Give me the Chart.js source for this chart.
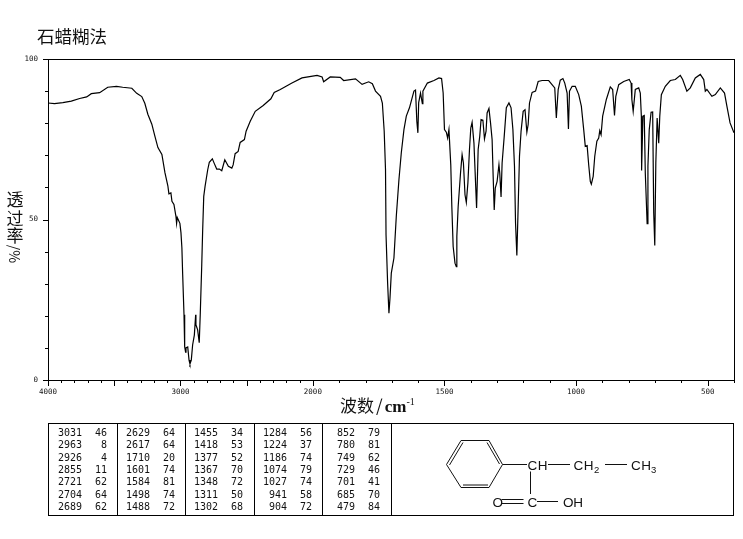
<!DOCTYPE html>
<html lang="zh-cn">

<head>
    <meta charset="UTF-8">
    <title>石蜡糊法</title>
    <script src="https://cdn.jsdelivr.net/npm/chart.js"></script>
    <style>
        html, body { margin: 0; padding: 0; background: #fff; }
        .page { position: relative; width: 743px; height: 539px; overflow: hidden; }
        canvas { position: absolute; left: 0; top: 0; }
        .titulo { position: absolute; left: 37px; top: 23px; font: 17.5px "Noto Sans CJK SC"; color: #111; white-space: nowrap; }
        .ychar { position: absolute; left: 5px; width: 20px; text-align: center; font: 17px/20px "Noto Sans CJK SC"; color: #111; }
        .yrot { position: absolute; left: 3px; top: 244px; width: 24px; text-align: center; font: 14px/20px "Noto Sans CJK SC"; color: #111; transform: rotate(90deg); white-space: nowrap; }
        .xtitle { position: absolute; left: 340px; top: 392px; font: 17px "Noto Sans CJK SC"; color: #111; white-space: nowrap; }
        .xtitle i { font-style: normal; padding: 0 2px; }
        .xtitle span { font-family: "Liberation Serif"; font-size: 17px; font-weight: bold; }
        .xtitle sup { font: 10px "Liberation Serif"; position: relative; top: 4px; vertical-align: top; }
        #tabela { position: absolute; left: 48px; top: 423px; width: 686px; height: 93px; box-sizing: border-box; border: 1px solid #000; }
        .coluna { position: absolute; top: 3px; width: 68px; height: 90px; }
        .linha { position: absolute; left: 0; height: 12px; font: 10px/12px "DejaVu Sans Mono"; color: #111; }
        .linha b { position: absolute; top: 0; font-weight: normal; text-align: right; }
        svg { position: absolute; left: 0; top: 0; }
    </style>
</head>

<body>
    <div class="page">
        <canvas id="espectro" width="743" height="539"></canvas>
        <div class="titulo">石蜡糊法</div>
        <div class="ychar" style="top:189px">透</div>
        <div class="ychar" style="top:208px">过</div>
        <div class="ychar" style="top:225px">率</div>
        <div class="yrot">/%</div>
        <div class="xtitle">波数<i>/</i><span>cm</span><sup>-1</sup></div>
        <div id="tabela"></div>
        <svg width="743" height="539" stroke="#111" stroke-width="1" font-family="Liberation Sans" font-size="13.5" fill="#111">
            <g fill="none">
                <path d="M446.5 464.5 L461 440.5 L489 440.5 L502.5 464.5 L489 487.5 L461 487.5 Z"/>
                <path d="M449.5 465 L463 442.5 M487 442.5 L499.5 464 M463 485 L488 485"/>
                <path d="M502.5 464.5 H527 M548 464.5 H570 M605 464.5 H627 M530.5 471.5 V494"/>
                <path d="M501.5 499.5 H523.5 M501.5 503.5 H523.5 M537 501.5 H558"/>
            </g>
            <g stroke="none">
                <text x="527.5" y="469.5" textLength="20">CH</text>
                <text x="573.5" y="469.5" textLength="20">CH</text>
                <text x="594" y="473" font-size="9.5">2</text>
                <text x="631" y="469.5" textLength="20">CH</text>
                <text x="651" y="473" font-size="9.5">3</text>
                <text x="492.5" y="506.5">O</text>
                <text x="527.5" y="506.5">C</text>
                <text x="563" y="506.5" textLength="20">OH</text>
            </g>
        </svg>
    </div>

<script>
    // eixo x quebrado em 2000
    var xLabels = [4000, 3000, 2000, 1500, 1000, 500];
    var xMinor = [3900, 3800, 3700, 3600, 3400, 3300, 3200, 3100, 2900, 2800, 2700, 2600, 2400, 2300, 2200, 2100,
        1900, 1800, 1700, 1600, 1400, 1300, 1200, 1100, 900, 800, 700, 600, 400];
    var xMajor = [4000, 3500, 3000, 2500, 2000, 1500, 1000, 500];
    var yLabels = [0, 50, 100];
    var yMinor = [10, 20, 30, 40, 60, 70, 80, 90];

    var wavenumbers = [
        4000, 3951, 3888, 3824, 3761, 3708, 3673, 3610, 3549, 3483,
        3436, 3367, 3330, 3292, 3269, 3246, 3216, 3193, 3170, 3140,
        3117, 3095, 3087, 3072, 3064, 3049, 3034, 3029, 3024, 3004,
        2996, 2989, 2983, 2973, 2968, 2961, 2958, 2945, 2935, 2928,
        2918, 2908, 2895, 2885, 2883, 2870, 2858, 2850, 2839, 2832,
        2824, 2814, 2794, 2782, 2759, 2744, 2726, 2706, 2688, 2665,
        2638, 2612, 2602, 2587, 2564, 2549, 2517, 2504, 2473, 2435,
        2375, 2317, 2292, 2246, 2158, 2082, 1984, 1965, 1959, 1934,
        1896, 1883, 1838, 1813, 1788, 1774, 1762, 1743, 1736, 1729,
        1724, 1722, 1716, 1711, 1707, 1702, 1692, 1683, 1673, 1664,
        1654, 1645, 1633, 1616, 1610, 1605, 1601, 1598, 1591, 1584,
        1582, 1565, 1540, 1521, 1511, 1505, 1500, 1493, 1488, 1483,
        1476, 1472, 1467, 1460, 1455, 1453, 1448, 1439, 1433, 1428,
        1422, 1417, 1411, 1405, 1400, 1395, 1388, 1378, 1372, 1366,
        1361, 1354, 1348, 1342, 1338, 1331, 1325, 1319, 1315, 1311,
        1307, 1300, 1293, 1290, 1285, 1281, 1273, 1265, 1255, 1247,
        1240, 1234, 1230, 1225, 1221, 1215, 1209, 1201, 1194, 1187,
        1182, 1177, 1167, 1154, 1144, 1129, 1104, 1081, 1075, 1068,
        1060, 1050, 1043, 1034, 1029, 1025, 1015, 1003, 990, 980,
        971, 965, 958, 952, 946, 942, 935, 929, 921, 914,
        910, 905, 899, 885, 870, 861, 854, 849, 838, 819,
        798, 791, 788, 783, 775, 762, 756, 752, 751, 746,
        741, 737, 730, 727, 722, 715, 709, 705, 701, 697,
        692, 686, 682, 676, 661, 642, 623, 604, 595, 579,
        566, 547, 528, 515, 509, 503, 484, 471, 452, 436,
        427, 415, 400
    ];

    var transmittance = [
        86.3, 86.1, 86.4, 86.9, 87.7, 88.2, 89.2, 89.5, 91.2, 91.5,
        91.2, 90.9, 89.3, 88.3, 86.2, 82.8, 79.7, 76, 72.4, 70.3,
        64.6, 60.5, 58, 58.3, 55.7, 54.7, 51, 48.8, 50.6, 48.8,
        45.9, 41.2, 32.8, 20.3, 10.4, 8.7, 10, 10.3, 6.2, 5,
        6.2, 10.9, 14, 20.3, 17.2, 15.6, 11.6, 20.9, 35.9, 46.8,
        57.2, 60.3, 65.5, 67.8, 68.9, 67.4, 65.7, 65.7, 65.2, 68.6,
        66.6, 66, 67, 70.5, 71.2, 74, 74.9, 77.5, 80.6, 83.7,
        85.5, 87.6, 89.6, 90.5, 92.5, 94.1, 94.9, 94.4, 92.9, 94.4,
        94.3, 93.3, 93.8, 92.1, 92.9, 92.3, 90, 88.4, 86.3, 77.5,
        65.5, 45.2, 30.2, 20.8, 25.5, 33.3, 38, 51, 62.4, 70.8,
        78, 82.2, 84.8, 90, 90.3, 80.6, 77, 86.4, 89.4, 86.1,
        90, 92.5, 93.3, 94.1, 93.9, 89.4, 78, 77.2, 75.4, 78,
        67, 54, 41.6, 36.4, 35.3, 44.7, 54, 64.5, 70.2, 67.6,
        57.7, 55.3, 61.4, 71.8, 78.5, 80.3, 73.8, 53.6, 71.8, 75.9,
        81.1, 80.9, 75.1, 77.5, 83.2, 84.6, 80.1, 74.9, 63.4, 53,
        59.8, 61.9, 67.1, 64.5, 57, 67.6, 75.9, 84.8, 86.3, 84.8,
        78, 66.6, 48.9, 38.8, 51, 69.7, 77.5, 83.7, 84.2, 77.2,
        79.6, 86.3, 89.6, 90, 93, 93.3, 93.3, 91, 81.6, 90.5,
        93.4, 93.9, 92.5, 89.4, 78.2, 90, 91.5, 91.5, 88.9, 85.3,
        78, 72.8, 73, 67, 61.9, 61, 63.4, 69.7, 74.4, 75.4,
        77.7, 76.4, 82.2, 87.4, 91.3, 90.5, 82.4, 88.4, 92, 93,
        93.6, 92.5, 87.4, 83.7, 90.5, 91, 89.4, 82.2, 65.3, 82.2,
        82.4, 64.5, 48.7, 66.6, 78, 83.4, 83.5, 52, 41.9, 67.6,
        81.6, 73.8, 82.2, 88.9, 91.5, 93.3, 93.6, 94.9, 93.6, 90,
        91, 94.1, 95.2, 93.6, 90, 90.5, 88.4, 88.9, 91, 89.4,
        85.3, 80.1, 77
    ];

    // tabela de picos, uma lista por coluna
    var peaksWave = [
        [3031, 2963, 2926, 2855, 2721, 2704, 2689],
        [2629, 2617, 1710, 1601, 1584, 1498, 1488],
        [1455, 1418, 1377, 1367, 1348, 1311, 1302],
        [1284, 1224, 1186, 1074, 1027, 941, 904],
        [852, 780, 749, 729, 701, 685, 479]
    ];
    var peaksTrans = [
        [46, 8, 4, 11, 62, 64, 62],
        [64, 64, 20, 74, 81, 74, 72],
        [34, 53, 52, 70, 72, 50, 68],
        [56, 37, 74, 79, 74, 58, 72],
        [79, 81, 62, 46, 41, 70, 84]
    ];

    // escala linear com a quebra em 2000 (metade da escala acima disso)
    var BREAK_AT = 2000;
    var BREAK_POS = 0.3861;

    class BrokenScale extends Chart.LinearScale {
        getPixelForValue(value) {
            var dec;
            if (value >= BREAK_AT) {
                dec = (this.max - value) / (this.max - BREAK_AT) * BREAK_POS;
            } else {
                dec = BREAK_POS + (BREAK_AT - value) / (BREAK_AT - this.min) * (1 - BREAK_POS);
            }
            return this.getPixelForDecimal(dec);
        }
    }
    BrokenScale.id = "broken";
    BrokenScale.defaults = Chart.LinearScale.defaults;
    Chart.register(BrokenScale);

    // moldura e marcas dos eixos
    var molduraPlugin = {
        id: "moldura",
        afterDraw(chart) {
            var ctx = chart.ctx;
            var area = chart.chartArea;
            var x = chart.scales.x;
            var y = chart.scales.y;
            ctx.save();
            ctx.strokeStyle = "#000";
            ctx.lineWidth = 1;
            ctx.strokeRect(area.left + 0.5, area.top + 0.5, area.right - area.left, area.bottom - area.top);
            ctx.beginPath();
            xMajor.forEach(function (v) {
                var px = Math.round(x.getPixelForValue(v)) + 0.5;
                ctx.moveTo(px, area.bottom);
                ctx.lineTo(px, area.bottom + 6);
            });
            xMinor.forEach(function (v) {
                var px = Math.round(x.getPixelForValue(v)) + 0.5;
                ctx.moveTo(px, area.bottom);
                ctx.lineTo(px, area.bottom + 3);
            });
            yLabels.forEach(function (v) {
                var py = Math.round(y.getPixelForValue(v)) + 0.5;
                ctx.moveTo(area.left, py);
                ctx.lineTo(area.left - 5, py);
            });
            yMinor.forEach(function (v) {
                var py = Math.round(y.getPixelForValue(v)) + 0.5;
                ctx.moveTo(area.left, py);
                ctx.lineTo(area.left - 3, py);
            });
            ctx.stroke();
            ctx.restore();
        }
    };

    const ctx = document.getElementById("espectro");
    new Chart(ctx, {
        type: "line",
        data: {
            datasets: [{
                data: wavenumbers.map(function (w, i) { return { x: w, y: transmittance[i] }; }),
                borderColor: "#000",
                borderWidth: 1.2,
                pointRadius: 0,
                tension: 0
            }]
        },
        plugins: [molduraPlugin],
        options: {
            responsive: false,
            animation: false,
            layout: { padding: { top: 59, right: 9, bottom: 0, left: 0 } },
            plugins: { legend: { display: false }, title: { display: false }, tooltip: { enabled: false } },
            scales: {
                x: {
                    type: "broken",
                    min: 400,
                    max: 4000,
                    grid: { display: false },
                    border: { display: false },
                    afterBuildTicks: function (scale) {
                        scale.ticks = xLabels.map(function (v) { return { value: v }; });
                    },
                    afterFit: function (scale) { scale.height = 159; },
                    ticks: {
                        autoSkip: false,
                        maxRotation: 0,
                        padding: 0,
                        color: "#111",
                        font: { family: "DejaVu Sans Mono", size: 7.5 },
                        callback: function (v) { return String(v); }
                    }
                },
                y: {
                    min: 0,
                    max: 100,
                    grid: { display: false },
                    border: { display: false },
                    afterBuildTicks: function (scale) {
                        scale.ticks = yLabels.map(function (v) { return { value: v }; });
                    },
                    afterFit: function (scale) { scale.width = 48; },
                    ticks: {
                        padding: 2,
                        color: "#111",
                        font: { family: "DejaVu Sans Mono", size: 7.5 }
                    }
                }
            }
        }
    });

    // monta a tabela de picos
    var tabela = document.getElementById("tabela");
    var colunaX = [0, 68, 136, 205, 273];
    var divisorias = [68, 136, 205, 273, 342];
    var html = "";
    peaksWave.forEach(function (lista, c) {
        html += '<div style="position:absolute;left:' + divisorias[c] + 'px;top:0;height:91px;border-left:1px solid #000"></div>';
        html += '<div class="coluna" style="left:' + colunaX[c] + 'px">';
        lista.forEach(function (wave, r) {
            html += '<div class="linha" style="top:' + (r * 12.33) + 'px">' +
                '<b style="left:0;width:33px">' + wave + '</b>' +
                '<b style="left:33px;width:25px">' + peaksTrans[c][r] + '</b></div>';
        });
        html += '</div>';
    });
    tabela.innerHTML = html;
</script>
</body>

</html>
